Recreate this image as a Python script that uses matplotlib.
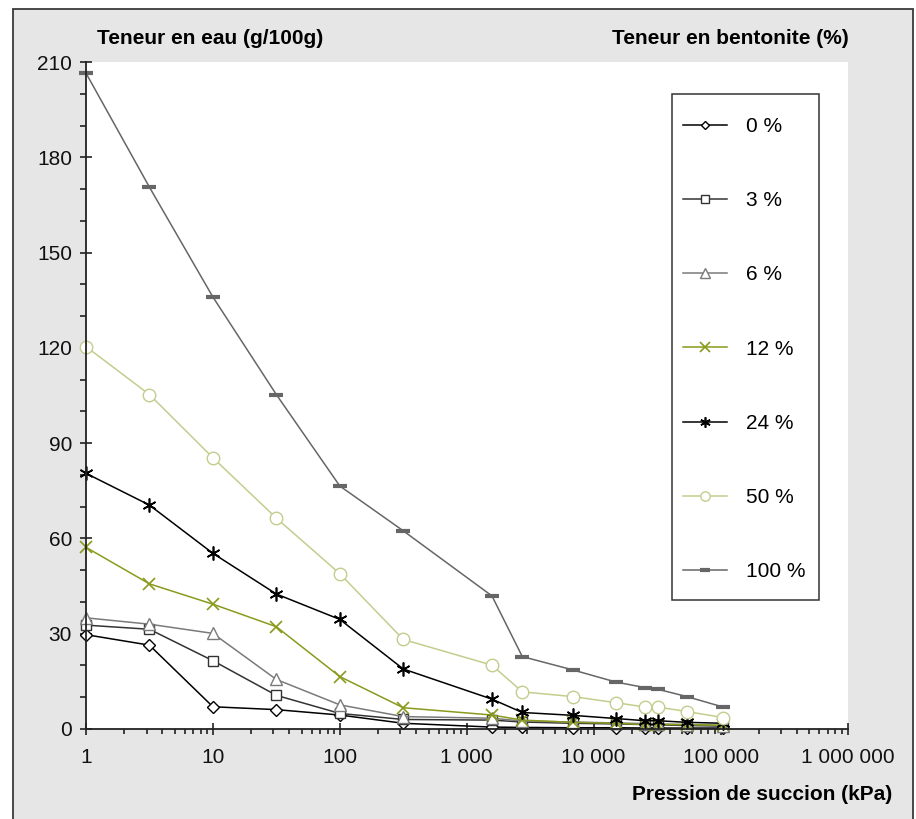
import matplotlib
matplotlib.use("Agg")
import matplotlib.pyplot as plt
from matplotlib.patches import Rectangle
from matplotlib.ticker import FixedLocator, NullFormatter

# suction pressure (kPa), shared by all series
pression = [1, 3.16, 10, 31.6, 100, 316, 1580, 2740, 6860, 14900, 25600, 32100, 54300, 105000]

# water content (g/100g) per bentonite content
eau_0 = [29.7, 26.4, 7.0, 6.1, 4.4, 1.8, 0.6, 0.5, 0.4, 0.4, 0.3, 0.3, 0.3, 0.3]
eau_3 = [32.7, 31.4, 21.5, 10.6, 4.9, 3.0, 2.8, 2.2, 1.8, 1.6, 1.4, 1.3, 1.1, 0.9]
eau_6 = [35.0, 33.0, 30.1, 15.6, 7.6, 3.9, 3.4, 2.5, 2.2, 1.9, 1.7, 1.6, 1.4, 1.1]
eau_12 = [57.2, 45.7, 39.3, 32.2, 16.5, 6.7, 4.4, 2.8, 2.1, 1.8, 1.4, 1.4, 1.4, 1.2]
eau_24 = [80.5, 70.5, 55.3, 42.5, 34.5, 18.9, 9.4, 5.2, 4.3, 3.3, 2.6, 2.6, 2.1, 1.8]
eau_50 = [120.4, 105.3, 85.4, 66.4, 48.9, 28.2, 20.1, 11.7, 10.2, 8.3, 6.9, 6.9, 5.5, 3.6]
eau_100 = [206.5, 170.6, 136.0, 105.3, 76.5, 62.4, 41.9, 22.8, 18.6, 14.8, 13.0, 12.5, 10.2, 6.9]

labels = ["0 %", "3 %", "6 %", "12 %", "24 %", "50 %", "100 %"]
x_ticks = [1, 10, 100, 1e3, 1e4, 1e5, 1e6]
x_tick_labels = ["1", "10", "100", "1 000", "10 000", "100 000", "1 000 000"]
y_ticks = [0, 30, 60, 90, 120, 150, 180, 210]

plt.rcParams["font.family"] = ["Liberation Sans", "DejaVu Sans"]
plt.rcParams["font.size"] = 15

W, H = 916, 819
fig = plt.figure(figsize=(W / 100, H / 100), dpi=100, facecolor="white")

# grey panel with dark frame (bottom edge runs off the image)
fig.patches.append(Rectangle((13 / W, -0.05), 900 / W, 1.05 - 9 / H,
                             transform=fig.transFigure, facecolor="#e6e6e6",
                             edgecolor="#3a3a3a", linewidth=1.3, zorder=-10))

ax = fig.add_axes([86 / W, 1 - 729 / H, (847.5 - 86) / W, (729 - 62) / H])
ax.set_facecolor("white")

styles = [
    dict(color="black", marker="D", ms=6, mfc="white", mec="black"),
    dict(color="#333333", marker="s", ms=7.5, mfc="white", mec="#333333"),
    dict(color="#7a7a7a", marker="^", ms=9, mfc="white", mec="#7a7a7a"),
    dict(color="#8a9a1c", marker="x", ms=9, mew=1.2),
    dict(color="black", marker=(6, 2, 0), ms=10, mew=1.2),
    dict(color="#c3cd8e", marker="o", ms=9, mfc="white", mec="#c3cd8e"),
    dict(color="#666666", marker="_", ms=10, mew=3),
]
series = [eau_0, eau_3, eau_6, eau_12, eau_24, eau_50, eau_100]
for vals, lab, st in zip(series, labels, styles):
    ax.plot(pression, vals, label=lab, lw=1.1, clip_on=False, **st)

ax.set_xscale("log")
ax.set_xlim(1, 1e6)
ax.set_ylim(0, 210)
ax.xaxis.set_major_locator(FixedLocator(x_ticks))
ax.set_xticklabels(x_tick_labels)
minors = [m * 10 ** d for d in range(6) for m in range(2, 10)]
ax.xaxis.set_minor_locator(FixedLocator(minors))
ax.xaxis.set_minor_formatter(NullFormatter())
ax.set_yticks(y_ticks)
ax.yaxis.set_minor_locator(FixedLocator([v for v in range(0, 211, 10) if v % 30]))

for s in ("top", "right"):
    ax.spines[s].set_visible(False)
for s in ("left", "bottom"):
    ax.spines[s].set_color("#222222")
    ax.spines[s].set_linewidth(1.3)

ax.tick_params(axis="y", which="major", direction="inout", length=8.6, width=1.1, pad=5.8, colors="#111111")
ax.tick_params(axis="y", which="minor", direction="out", length=4.3, width=1.1, colors="#111111")
ax.tick_params(axis="x", which="major", direction="inout", length=8.6, width=1.1, pad=9.4, colors="#111111")
ax.tick_params(axis="x", which="minor", direction="out", length=3.5, width=1.1, colors="#111111")

fig.text(97 / W, 1 - 44 / H, "Teneur en eau (g/100g)", fontweight="bold", ha="left", va="baseline")
fig.text(849 / W, 1 - 44 / H, "Teneur en bentonite (%)", fontweight="bold", ha="right", va="baseline")
fig.text(892 / W, 1 - 795 / H, "Pression de succion (kPa)", fontweight="bold", ha="right", va="center")

# legend box drawn separately (more vertical than horizontal padding)
ax.add_patch(Rectangle((672 / W, 1 - 600 / H), (819 - 672) / W, (600 - 94) / H,
                       transform=fig.transFigure, facecolor="white", clip_on=False,
                       edgecolor="#333333", linewidth=1.1, zorder=10))
leg = ax.legend(loc="upper left", bbox_to_anchor=(683 / W, 1 - 117 / H), bbox_transform=fig.transFigure,
                frameon=False, handlelength=2.1, handletextpad=0.9, labelspacing=2.65,
                borderpad=0, borderaxespad=0, markerscale=0.75)
leg.set_zorder(11)

fig.savefig("out.png", dpi=100, facecolor=fig.get_facecolor())
